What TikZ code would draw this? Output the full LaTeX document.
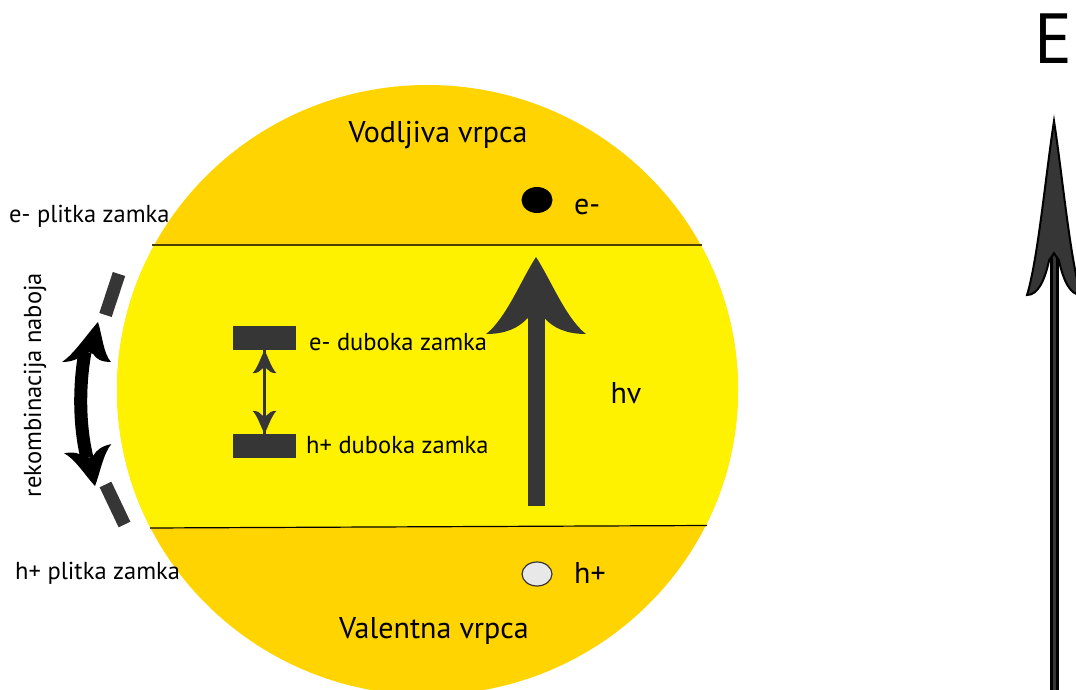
\documentclass[tikz,border=0pt]{standalone}
\usepackage{fontspec}
\usetikzlibrary{shapes.geometric}
\setmainfont{PT Sans}
\definecolor{vrpca}{HTML}{FFD400}
\definecolor{procjep}{HTML}{FFF200}
\definecolor{tamna}{HTML}{363636}
\definecolor{supljina}{HTML}{E8E8E8}
% barbed arrow head: tip, turn or slant, half width, length, look
\newcommand{\barbhead}[5]{
    \begin{scope}[shift={(#1)},#2,xscale=#3,yscale=#4]
    \path [#5] (0,0) .. controls (-.3,.3) and (-.6,.8) .. (-1,1)
        .. controls (-.6,1) and (-.35,.92) .. (-.18,.8)
        -- (0,.76) -- (.18,.8)
        .. controls (.35,.92) and (.6,1) .. (1,1)
        .. controls (.6,.8) and (.3,.3) .. (0,0) -- cycle;
    \end{scope}
}
\tikzset{
    smallLabel/.style={inner sep=0pt,font=\fontsize{24.5}{28}\selectfont},
    bigLabel/.style={inner sep=0pt,font=\fontsize{30}{34}\selectfont},
    trap/.style={fill=tamna,inner sep=0pt,minimum width=63pt,minimum height=24pt},
    shallow/.style={draw=tamna,line width=13pt},
}
\begin{document}
\begin{tikzpicture}[x=1pt,y=-1pt]
    \path [use as bounding box,clip] (0,0) rectangle (1076,690);
    \fill [white] (0,0) rectangle (1076,690);
    % the particle with its bands
    \coordinate (centar) at (427.5,390);
    \begin{scope}
    \clip (centar) ellipse (310.5 and 305);
    \fill [vrpca] (100,60) rectangle (760,700);
    \fill [procjep] (100,245) -- (760,245) -- (760,526) -- (100,528) -- cycle;
    \end{scope}
    \coordinate (gornjaL) at (152,245);
    \coordinate (gornjaD) at (702,245);
    \coordinate (donjaL) at (150,528);
    \coordinate (donjaD) at (707,525.5);
    \draw [black!70!vrpca,line width=1.2pt] (gornjaL) -- (gornjaD);
    \draw [black,line width=1.2pt] (donjaL) -- (donjaD);
    % band labels
    \node [bigLabel] (vodljiva) at (438,135) {Vodljiva vrpca};
    \node [bigLabel] (valentna) at (434,631) {Valentna vrpca};
    \node [fill=black,ellipse,inner sep=0pt,minimum width=31pt,minimum height=26pt] (elektron) at (537,200) {};
    \node [bigLabel,anchor=west] (elektronL) at (574,207) {e-};
    \node [draw=tamna,fill=supljina,line width=1.2pt,ellipse,inner sep=0pt,minimum width=30pt,minimum height=24pt] (supljina) at (537,574) {};
    \node [bigLabel,anchor=west] (supljinaL) at (574,573) {h+};
    % photon arrow
    \coordinate (hvdolje) at (536,506);
    \coordinate (hvvrh) at (536,257);
    \draw [tamna,line width=17pt,shorten >=50pt] (hvdolje) -- (hvvrh);
    \barbhead{hvvrh}{rotate=0}{50}{77}{fill=tamna}
    \node [bigLabel] (hv) at (626,393) {hv};
    % deep traps
    \node [trap] (etrap) at (264.5,338) {};
    \node [trap] (htrap) at (264.5,446) {};
    \draw [tamna,line width=3.5pt] (etrap) -- (htrap);
    \barbhead{etrap.south}{rotate=0}{12}{23}{fill=tamna}
    \barbhead{htrap.north}{rotate=180}{12}{23}{fill=tamna}
    \node [smallLabel,anchor=west] (etrapL) at (309,342) {e- duboka zamka};
    \node [smallLabel,anchor=west] (htrapL) at (306,445) {h+ duboka zamka};
    % shallow traps and recombination
    \coordinate (plitkaE1) at (119,274);
    \coordinate (plitkaE2) at (105.5,315);
    \coordinate (plitkaH1) at (105.5,484.5);
    \coordinate (plitkaH2) at (124.5,524.5);
    \draw [shallow] (plitkaE1) -- (plitkaE2);
    \draw [shallow] (plitkaH1) -- (plitkaH2);
    \coordinate (rekG) at (85,352);
    \coordinate (rekD) at (87,458);
    \draw [black,line width=13pt] (rekG) .. controls (79,385) and (79,425) .. (rekD);
    \barbhead{98,322}{xslant=.2875}{24.5}{40}{fill=black}
    \barbhead{95,486}{rotate=191}{24}{38}{fill=black}
    \node [smallLabel,anchor=west] (eplitkaL) at (9,216) {e- plitka zamka};
    \node [smallLabel,anchor=west] (hplitkaL) at (15,573) {h+ plitka zamka};
    \node [smallLabel,rotate=90] (rekombinacija) at (35,385) {rekombinacija naboja};
    % energy axis
    \coordinate (osdolje) at (1054,700);
    \coordinate (osvrh) at (1054,121);
    \draw [black,line width=9pt,shorten >=118pt] (osdolje) -- (osvrh);
    \draw [tamna,line width=3pt,shorten >=118pt] (osdolje) -- (osvrh);
    \barbhead{osvrh}{rotate=0}{27}{174}{fill=tamna,draw=black,line width=2pt}
    \node [inner sep=0pt,font=\fontsize{71}{80}\selectfont] (energija) at (1054,39) {E};
\end{tikzpicture}
\end{document}
